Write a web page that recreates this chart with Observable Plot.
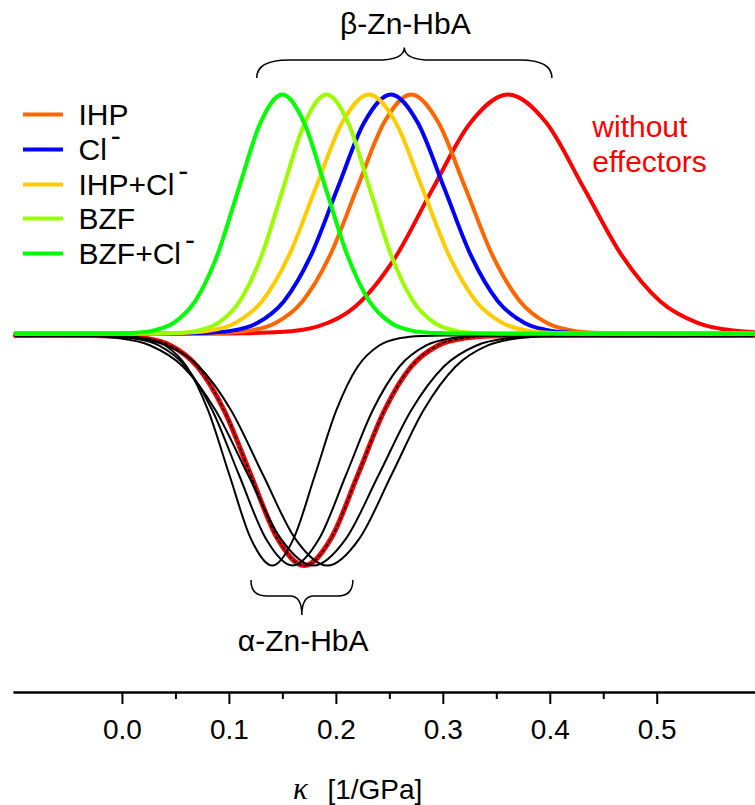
<!DOCTYPE html>
<html><head><meta charset="utf-8">
<script src="https://cdn.jsdelivr.net/npm/d3@7"></script>
<script src="https://cdn.jsdelivr.net/npm/@observablehq/plot@0.6"></script>
<style>html,body{margin:0;padding:0;background:#fff;} svg{display:block;}</style>
</head><body><div id="chart"></div>
<script>
// ---------- axis ----------
const majorTicks = [0.0, 0.1, 0.2, 0.3, 0.4, 0.5];
const minorTicks = [0.05, 0.15, 0.25, 0.35, 0.45];

// ---------- legend ----------
const legendLabels = ["IHP", "Cl", "IHP+Cl", "BZF", "BZF+Cl"];
const legendSup = ["", "-", "-", "", "-"];
const legendColors = ["#ff6600", "#0000ff", "#ffcc00", "#99ff00", "#00ff00"];

// ---------- beta-Zn-HbA distributions (upper) ----------
const betaNames = ["without effectors", "IHP", "Cl-", "IHP+Cl-", "BZF", "BZF+Cl-"];
const betaColors = ["#ff0000", "#ff6600", "#0000ff", "#ffcc00", "#99ff00", "#00ff00"];
const xBetaWithout = [-0.10, 0.0761, 0.1117, 0.1472, 0.1828, 0.2183, 0.2539, 0.2894, 0.3250, 0.3605, 0.3961, 0.4316, 0.4672, 0.5027, 0.5383, 0.5738, 0.59];
const yBetaWithout = [0, 0.0002, 0.0012, 0.006, 0.03, 0.115, 0.31, 0.60, 0.88, 1, 0.8825, 0.6065, 0.3247, 0.1353, 0.0439, 0.0111, 0.0055];
const xBetaIHP = [-0.10, 0.0668, 0.0922, 0.1176, 0.1430, 0.1684, 0.1938, 0.2192, 0.2446, 0.2700, 0.2954, 0.3208, 0.3462, 0.3716, 0.3970, 0.4224, 0.4478, 0.4732, 0.59];
const yBetaIHP = [0, 0.0003, 0.0022, 0.0111, 0.0439, 0.1353, 0.3247, 0.6065, 0.8825, 1, 0.8825, 0.6065, 0.3247, 0.1353, 0.0439, 0.0111, 0.0022, 0.0003, 0];
const xBetaCl = [-0.10, 0.051, 0.076, 0.101, 0.126, 0.151, 0.176, 0.201, 0.226, 0.251, 0.276, 0.301, 0.326, 0.351, 0.376, 0.401, 0.426, 0.451, 0.59];
const yBetaCl = [0, 0.0003, 0.0022, 0.0111, 0.0439, 0.1353, 0.3247, 0.6065, 0.8825, 1, 0.8825, 0.6065, 0.3247, 0.1353, 0.0439, 0.0111, 0.0022, 0.0003, 0];
const xBetaIHPCl = [-0.10, 0.0305, 0.0555, 0.0805, 0.1055, 0.1305, 0.1555, 0.1805, 0.2055, 0.2305, 0.2555, 0.2805, 0.3055, 0.3305, 0.3555, 0.3805, 0.4055, 0.4305, 0.59];
const yBetaIHPCl = [0, 0.0003, 0.0022, 0.0111, 0.0439, 0.1353, 0.3247, 0.6065, 0.8825, 1, 0.8825, 0.6065, 0.3247, 0.1353, 0.0439, 0.0111, 0.0022, 0.0003, 0];
const xBetaBZF = [-0.10, 0.0287, 0.0490, 0.0692, 0.0895, 0.1097, 0.1300, 0.1502, 0.1705, 0.1907, 0.2110, 0.2312, 0.2515, 0.2717, 0.2920, 0.3122, 0.3325, 0.3527, 0.59];
const yBetaBZF = [0, 0.0003, 0.0022, 0.0111, 0.0439, 0.1353, 0.3247, 0.6065, 0.8825, 1, 0.8825, 0.6065, 0.3247, 0.1353, 0.0439, 0.0111, 0.0022, 0.0003, 0];
const xBetaBZFCl = [-0.10, -0.0134, 0.0070, 0.0273, 0.0477, 0.0680, 0.0884, 0.1087, 0.1291, 0.1494, 0.1698, 0.1901, 0.2105, 0.2308, 0.2512, 0.2715, 0.2919, 0.3122, 0.59];
const yBetaBZFCl = [0, 0.0003, 0.0022, 0.0111, 0.0439, 0.1353, 0.3247, 0.6065, 0.8825, 1, 0.8825, 0.6065, 0.3247, 0.1353, 0.0439, 0.0111, 0.0022, 0.0003, 0];

// ---------- alpha-Zn-HbA distributions (lower, drawn downward) ----------
const xAlpha1 = [-0.10, -0.020, 0.000, 0.020, 0.040, 0.060, 0.080, 0.100, 0.120, 0.140, 0.160, 0.180, 0.200, 0.220, 0.240, 0.260, 0.280, 0.300, 0.59];
const yAlpha1 = [-0.008, -0.008, -0.010, -0.019, -0.050, -0.138, -0.321, -0.592, -0.858, -0.971, -0.858, -0.592, -0.321, -0.138, -0.050, -0.019, -0.010, -0.008, -0.008];
const xAlpha2 = [-0.10, -0.041, -0.016, 0.009, 0.034, 0.059, 0.084, 0.109, 0.134, 0.159, 0.184, 0.209, 0.234, 0.259, 0.284, 0.309, 0.334, 0.359, 0.59];
const yAlpha2 = [-0.008, -0.008, -0.010, -0.019, -0.050, -0.138, -0.321, -0.592, -0.858, -0.971, -0.858, -0.592, -0.321, -0.138, -0.050, -0.019, -0.010, -0.008, -0.008];
const xAlphaWithout = [-0.10, -0.030, -0.005, 0.020, 0.045, 0.070, 0.095, 0.120, 0.145, 0.170, 0.195, 0.220, 0.245, 0.270, 0.295, 0.320, 0.345, 0.370, 0.59];
const yAlphaWithout = [-0.008, -0.008, -0.010, -0.019, -0.050, -0.138, -0.321, -0.592, -0.858, -0.971, -0.858, -0.592, -0.321, -0.138, -0.050, -0.019, -0.010, -0.008, -0.008];
const xAlpha3 = [-0.10, -0.0655, -0.035, -0.0045, 0.026, 0.0565, 0.087, 0.1175, 0.148, 0.1785, 0.209, 0.2395, 0.270, 0.3005, 0.331, 0.3615, 0.392, 0.4225, 0.59];
const yAlpha3 = [-0.008, -0.008, -0.010, -0.019, -0.050, -0.138, -0.321, -0.592, -0.858, -0.971, -0.858, -0.592, -0.321, -0.138, -0.050, -0.019, -0.010, -0.008, -0.008];
const xAlpha4 = [-0.10, -0.0485, -0.0185, 0.0115, 0.0415, 0.0715, 0.1015, 0.1315, 0.1615, 0.1915, 0.2215, 0.2515, 0.2815, 0.3115, 0.3415, 0.3715, 0.4015, 0.4315, 0.59];
const yAlpha4 = [-0.008, -0.008, -0.010, -0.019, -0.050, -0.138, -0.321, -0.592, -0.858, -0.971, -0.858, -0.592, -0.321, -0.138, -0.050, -0.019, -0.010, -0.008, -0.008];

// ---------- annotation texts ----------
const betaLabel = "β-Zn-HbA";
const alphaLabel = "α-Zn-HbA";
const withoutLabel = "without\neffectors";
const xLabelSymbol = "κ";
const xLabelUnit = "[1/GPa]";

// ---------- build tables ----------
const pts = (xs, ys) => xs.map((x, i) => ({x, y: ys[i]}));
const betaSeries = [
  pts(xBetaWithout, yBetaWithout), pts(xBetaIHP, yBetaIHP), pts(xBetaCl, yBetaCl),
  pts(xBetaIHPCl, yBetaIHPCl), pts(xBetaBZF, yBetaBZF), pts(xBetaBZFCl, yBetaBZFCl)
];
const alphaBlack = [pts(xAlpha1, yAlpha1), pts(xAlpha2, yAlpha2), pts(xAlpha3, yAlpha3), pts(xAlpha4, yAlpha4)];
const alphaRed = pts(xAlphaWithout, yAlphaWithout);

const legendRows = legendLabels.map((label, i) => ({label, sup: legendSup[i], color: legendColors[i], row: i}));
const legendY = [0.916, 0.770, 0.623, 0.481, 0.335];

const AXIS_Y = -1.502;
const FONT = "Liberation Sans, Arial, Helvetica, sans-serif";
const CURVE = "monotone-x";

function braceMark(b) {
  return (index, scales) => {
    const sx = scales.x, sy = scales.y;
    const X1 = sx(b.x1), X2 = sx(b.x2), XM = sx(b.xm);
    const YE = sy(b.yEnd), YF = sy(b.yFlat), YT = sy(b.yTip);
    const qe = Math.abs(sx(b.x1 + b.qEnd) - X1), qt = Math.abs(sx(b.x1 + b.qTip) - X1);
    const d = `M${X1},${YE} Q${X1},${YF} ${X1 + qe},${YF} L${XM - qt},${YF} Q${XM},${YF} ${XM},${YT} ` +
              `Q${XM},${YF} ${XM + qt},${YF} L${X2 - qe},${YF} Q${X2},${YF} ${X2},${YE}`;
    const p = document.createElementNS("http://www.w3.org/2000/svg", "path");
    p.setAttribute("d", d);
    p.setAttribute("fill", "none");
    p.setAttribute("stroke", "#000");
    p.setAttribute("stroke-width", "1.5");
    return p;
  };
}
const braceBeta = {x1: 0.126, x2: 0.402, xm: 0.264, yEnd: 1.067, yFlat: 1.142, yTip: 1.195, qEnd: 0.030, qTip: 0.026};
const braceAlpha = {x1: 0.1206, x2: 0.2159, xm: 0.1682, yEnd: -1.033, yFlat: -1.100, yTip: -1.180, qEnd: 0.014, qTip: 0.011};

const marks = [];
// lower alpha curves
marks.push(Plot.line(alphaRed, {x: "x", y: "y", stroke: "#ff0000", strokeWidth: 5, curve: CURVE}));
for (const s of alphaBlack) marks.push(Plot.line(s, {x: "x", y: "y", stroke: "#000", strokeWidth: 2, curve: CURVE}));
marks.push(Plot.line(alphaRed, {x: "x", y: "y", stroke: "#000", strokeWidth: 1.6, strokeDasharray: "3,3", curve: CURVE}));
// upper beta curves
betaSeries.forEach((s, i) => marks.push(Plot.line(s, {x: "x", y: "y", stroke: betaColors[i], strokeWidth: 4, curve: CURVE})));

// axis
marks.push(Plot.ruleY([AXIS_Y], {x1: -0.1015, x2: 0.592, stroke: "#000", strokeWidth: 2.5}));
marks.push(Plot.ruleX(majorTicks, {x: d => d, y1: AXIS_Y, y2: AXIS_Y - 12 / 239, stroke: "#000", strokeWidth: 2}));
marks.push(Plot.ruleX(minorTicks, {x: d => d, y1: AXIS_Y, y2: AXIS_Y - 7 / 239, stroke: "#000", strokeWidth: 2}));
marks.push(Plot.text(majorTicks, {x: d => d, y: -1.661, text: d => d3.format(".1f")(d), fontSize: 28, fill: "#000"}));
marks.push(Plot.text([xLabelSymbol], {x: 0.1665, y: -1.908, text: d => d, fontSize: 31, fontStyle: "italic", fontFamily: "Liberation Serif, Times New Roman, serif", fill: "#000"}));
marks.push(Plot.text([xLabelUnit], {x: 0.1916, y: -1.908, text: d => d, fontSize: 28, textAnchor: "start", fill: "#000"}));

// legend
marks.push(Plot.ruleY(legendRows, {y: d => legendY[d.row], x1: -0.0925, x2: -0.0551, stroke: d => d.color, strokeWidth: 4}));
marks.push(Plot.text(legendRows, {x: -0.0411, y: d => legendY[d.row], text: "label", fontSize: 30, textAnchor: "start", dy: 1, fill: "#000"}));

// annotations
marks.push(Plot.text([withoutLabel], {x: 0.4393, y: 0.795, text: d => d, fontSize: 30, lineHeight: 1.167, textAnchor: "start", fill: "#ff0000"}));
marks.push(Plot.text([betaLabel], {x: 0.2645, y: 1.295, text: d => d, fontSize: 30, fill: "#000"}));
marks.push(Plot.text([alphaLabel], {x: 0.169, y: -1.290, text: d => d, fontSize: 30, fill: "#000"}));
marks.push(braceMark(braceBeta));
marks.push(braceMark(braceAlpha));

const chart = Plot.plot({
  width: 755,
  height: 805,
  marginLeft: 15,
  marginRight: 2,
  marginTop: 94,
  marginBottom: 113,
  x: {domain: [-0.10, 0.59], axis: null},
  y: {domain: [AXIS_Y, 1.0], axis: null},
  color: {type: "identity"},
  style: {fontFamily: FONT, background: "#fff", overflow: "visible"},
  marks
});

// superscript minus signs in legend labels
chart.querySelectorAll("text").forEach(t => {
  const i = legendLabels.indexOf(t.textContent);
  if (i >= 0 && legendSup[i]) {
    const ts = document.createElementNS("http://www.w3.org/2000/svg", "tspan");
    ts.setAttribute("dx", "4");
    ts.setAttribute("dy", "-14");
    ts.textContent = legendSup[i];
    t.appendChild(ts);
  }
});
document.getElementById("chart").appendChild(chart);
</script>
</body></html>
